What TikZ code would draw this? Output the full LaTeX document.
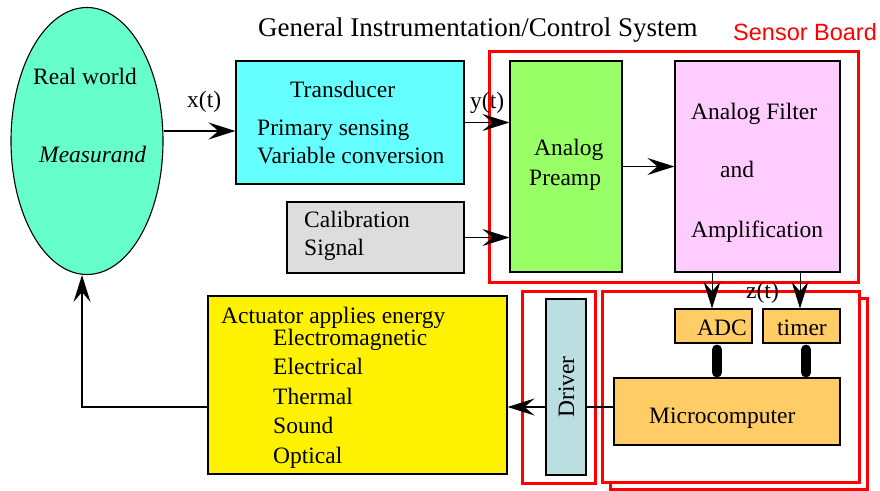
\documentclass[tikz,border=0pt]{standalone}
\usepackage{fontspec}
\setmainfont{Liberation Serif}
\newfontfamily\boardfont{Liberation Sans}
\usetikzlibrary{arrows.meta,positioning,shapes.geometric}
\definecolor{measgreen}{HTML}{66FFCC}
\definecolor{transcyan}{HTML}{66FFFF}
\definecolor{calgray}{HTML}{DDDDDD}
\definecolor{preampgreen}{HTML}{99FF66}
\definecolor{filterpink}{HTML}{FFCCFF}
\definecolor{mcorange}{HTML}{FFCC66}
\definecolor{drvblue}{HTML}{BBDEE0}

\begin{document}
\begin{tikzpicture}[x=1pt, y=-1pt, font=\fontsize{23.5}{28}\selectfont,
  box/.style={draw, line width=1.1pt, inner sep=0pt},
  arr/.style={line width=1.5pt, -{Stealth[length=27pt,width=17pt,inset=10pt]}},
  board/.style={draw=red, line width=3pt},
  bus/.style={line width=10pt, line cap=round},
  txt/.style={anchor=base west, inner sep=0pt}]
  \useasboundingbox (0,0) rectangle (880,490);
  % red boards go in first, the blocks sit on top
  \draw[board] (489,51) rectangle (858,282);
  \draw[board] (610,298) rectangle (867,489);
  \draw[board, fill=white] (602,291) rectangle (859,482);
  \draw[board] (522,291) rectangle (595,483);
  \node[txt, font=\fontsize{27}{32}\selectfont] (title) at (258,36) {General Instrumentation/Control System};
  \node[txt, text=red, font=\boardfont\fontsize{23.5}{28}\selectfont] (boardlbl) at (733,40) {Sensor Board};

  \node[ellipse, draw, line width=1.1pt, fill=measgreen, minimum width=152pt, minimum height=267pt, inner sep=0pt] (real) at (87,141) {};
  \node[txt] (realtxt) at (33,84) {Real world};
  \node[txt] (meastxt) at (39,162) {\itshape Measurand};

  \node[box, fill=transcyan, minimum width=228pt, minimum height=123pt] (trans) at (350,122.5) {};
  \node[txt] (transname) at (290,97) {Transducer};
  \node[txt] (primtxt) at (257,135) {Primary sensing};
  \node[txt] (vartxt) at (257,163) {Variable conversion};

  \node[box, fill=calgray, minimum width=177pt, minimum height=71pt] (cal) at (375.5,237.5) {};
  \node[txt] (caltxt) at (304,227) {Calibration};
  \node[txt] (sigtxt) at (304,255) {Signal};

  \node[box, fill=preampgreen, minimum width=112pt, minimum height=211pt] (pre) at (566,166.5) {};
  \node[txt] (pretxta) at (534,155) {Analog};
  \node[txt] (pretxtb) at (529,185) {Preamp};
  \node[box, fill=filterpink, minimum width=165pt, minimum height=211pt] (filt) at (757.5,166.5) {};
  \node[txt] (filttxta) at (691,119) {Analog Filter};
  \node[txt] (filttxtb) at (720,177) {and};
  \node[txt] (filttxtc) at (691,237) {Amplification};

  \node[box, fill=mcorange, minimum width=77pt, minimum height=34pt] (adc) at (713.5,326) {};
  \node[txt] (adctxt) at (697,335) {ADC};
  \node[box, fill=mcorange, minimum width=77pt, minimum height=34pt] (timer) at (801.5,326) {};
  \node[txt] (timertxt) at (777,335) {timer};
  \node[box, fill=mcorange, minimum width=226pt, minimum height=67pt] (mc) at (727,411.5) {};
  \node[txt] (mctxt) at (649,423) {Microcomputer};
  \node[box, fill=drvblue, minimum width=40pt, minimum height=176pt] (drv) at (566,387) {};
  \node[rotate=90, anchor=base, inner sep=0pt] (drvtxt) at (574,387) {Driver};

  \node[box, fill=yellow, minimum width=299pt, minimum height=178pt] (act) at (357.5,385) {};
  \node[txt] (acttxt) at (221,323) {Actuator applies energy};
  \foreach \i/\w in {0/Electromagnetic,1/Electrical,2/Thermal,3/Sound,4/Optical}
    \node[txt] (energy\i) at (273,345.5+29.4*\i) {\w};

  % signal path
  \draw[arr] ([yshift=10pt]real.east) -- ([yshift=-8.5pt]trans.west);
  \node[txt] (xlbl) at (187,107) {x(t)};
  \draw[arr] (trans.east) -- (trans.east -| pre.west);
  \node[txt] (ylbl) at (470,108) {y(t)};
  \draw[arr] (cal.east) -- (cal.east -| pre.west);
  \draw[arr] (pre.east) -- (filt.west);
  \draw[arr, line width=1pt] ([xshift=-1.5pt]adc.north |- filt.south) -- ([xshift=-1.5pt]adc.north);
  \draw[arr, line width=1pt] ([xshift=-1.5pt]timer.north |- filt.south) -- ([xshift=-1.5pt]timer.north);
  \node[txt] (zlbl) at (746,298) {z(t)};
  \draw[bus, shorten <=6pt, shorten >=5pt] ([xshift=3.5pt]adc.south) -- ([xshift=3.5pt]adc.south |- mc.north);
  \draw[bus, shorten <=6pt, shorten >=5pt] ([xshift=4.5pt]timer.south) -- ([xshift=4.5pt]timer.south |- mc.north);
  \draw[line width=1.5pt] ([yshift=4.5pt]mc.west) -- ([yshift=4.5pt]mc.west -| drv.east);
  \draw[arr] ([yshift=4.5pt]mc.west -| drv.west) -- ([yshift=4.5pt]mc.west -| act.east);
  \coordinate (fb) at (82,407);
  \draw[arr] (act.west |- fb) -- (fb) -- (fb |- real.south);
\end{tikzpicture}
\end{document}
